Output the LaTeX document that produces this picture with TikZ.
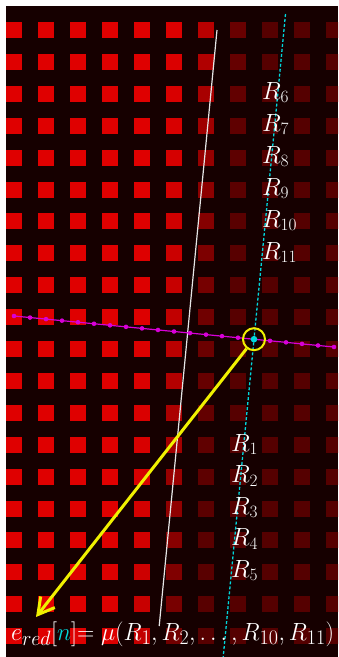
\documentclass[tikz,border=0pt]{standalone}
\usepackage{graphicx}
\usetikzlibrary{arrows.meta,calc}

\definecolor{bgdark}{RGB}{22,0,0}
\definecolor{magline}{RGB}{215,0,215}
\definecolor{cyanline}{RGB}{0,215,220}
\definecolor{ringyellow}{RGB}{240,240,0}
\definecolor{edgewhite}{RGB}{230,230,230}

\begin{document}
\begin{tikzpicture}[x=1pt, y=-1pt,
    lbl/.style={text=white, inner sep=0pt, font=\fontsize{23}{28}\selectfont},
    formula/.style={text=white, inner sep=0pt, font=\fontsize{32}{38}\selectfont}]
    \useasboundingbox (0,0) rectangle (338,657);
    % Frame and dark background
    \fill[white] (0,0) rectangle (338,657);
    \fill[bgdark] (6,6) rectangle (338,657);

    % Red pixel grid, fading across the edge
    \begin{scope}
        \clip (6,6) rectangle (338,657);
        \foreach \j in {0,...,19} {
            \foreach \k in {0,...,10} {
                \pgfmathsetmacro\yc{30+31.9*\j}
                \pgfmathsetmacro\dd{(14+32*\k)-(217-0.0969*(\yc-30))}
                \pgfmathsetmacro\tt{max(min(\dd/12,9),-9)}
                \pgfmathtruncatemacro\vv{85+139/(1+exp(\tt))}
                \definecolor{sq}{RGB}{\vv,0,0}
                \fill[sq] ({6+32*\k},{22+31.9*\j}) rectangle ++(16,16);
            }
        }
    \end{scope}

    % Edge line
    \coordinate (wTop) at (217,30);
    \coordinate (wBot) at (159.2,626);
    \draw[edgewhite, line width=1.2pt] (wTop) -- (wBot);

    % Sampling line with points
    \coordinate (mA) at (14,316);
    \coordinate (mB) at (334,347);
    \draw[magline, line width=1.2pt] (mA) -- (mB);
    \foreach \i in {0,...,20}
        \fill[magline] ($(mA)!\i/20!(mB)$) circle (2.3);

    % Normal through the centre
    \coordinate (cTop) at (285.5,14);
    \coordinate (cBot) at (223.2,657);
    \draw[cyanline, line width=1.3pt, dash pattern=on 3pt off 2pt] (cTop) -- (cBot);

    % Centre point
    \coordinate (ctr) at (254,339.2);
    \fill[cyanline] (ctr) circle (3.3);
    \node[circle, draw=ringyellow, line width=2pt, minimum size=22pt, inner sep=0pt] (ring) at (ctr) {};

    % Labels
    \node[lbl, anchor=base west] (r6) at (262,99) {$R_6$};
    \node[lbl, anchor=base west] (r7) at (262,131) {$R_7$};
    \node[lbl, anchor=base west] (r8) at (262,163) {$R_8$};
    \node[lbl, anchor=base west] (r9) at (262,195) {$R_9$};
    \node[lbl, anchor=base west] (r10) at (262,227) {$R_{10}$};
    \node[lbl, anchor=base west] (r11) at (262,259) {$R_{11}$};
    \node[lbl, anchor=base west] (r1) at (231,451) {$R_1$};
    \node[lbl, anchor=base west] (r2) at (231,482.5) {$R_2$};
    \node[lbl, anchor=base west] (r3) at (231,514) {$R_3$};
    \node[lbl, anchor=base west] (r4) at (231,545.5) {$R_4$};
    \node[lbl, anchor=base west] (r5) at (231,577) {$R_5$};

    % Result
    \node[formula, anchor=base west] (eq) at (11,640)
        {\resizebox{323pt}{\height}{$e_{red}[{\color{cyanline}n}]{=}\;\mu(R_1,R_2,\ldots,R_{10},R_{11})$}};
    \coordinate (tip) at (36,617);
    \draw[ringyellow, line width=3pt, -{Straight Barb[length=16pt, width=18pt]}] (ring) -- (tip);
\end{tikzpicture}
\end{document}
